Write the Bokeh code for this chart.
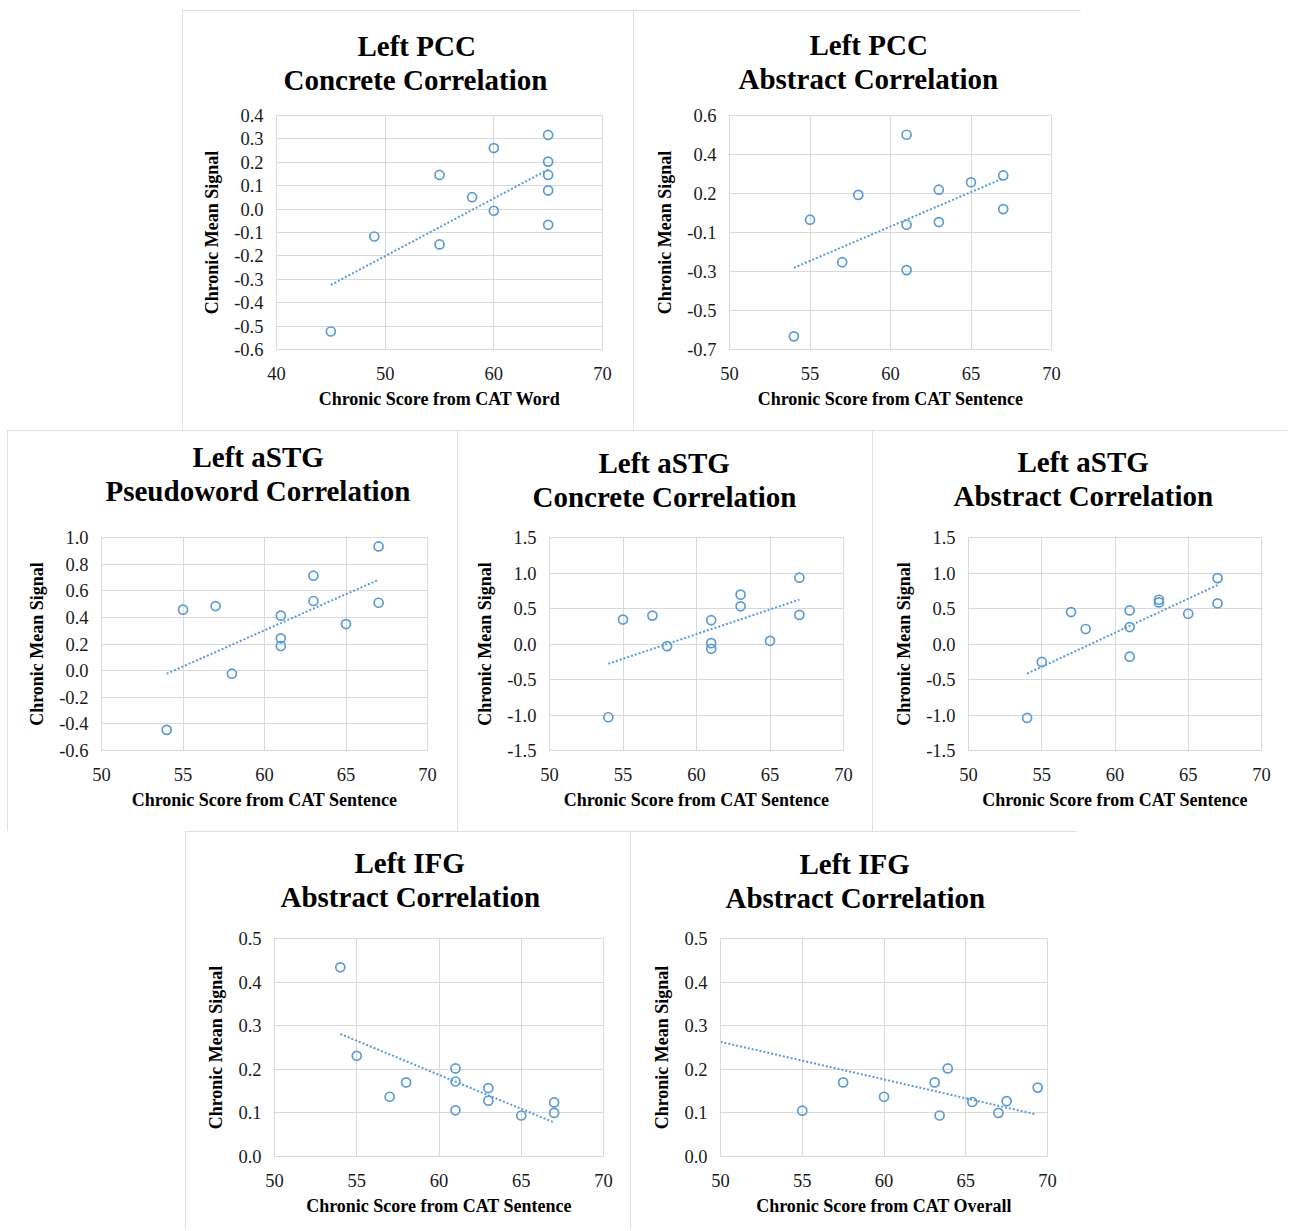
from bokeh.plotting import figure
from bokeh.models import Range1d, FixedTicker, Title, Spacer
from bokeh.layouts import row, column
from bokeh.embed import file_html
from bokeh.resources import INLINE

# ---------------- data ----------------
title_line1 = ["Left PCC", "Left PCC", "Left aSTG", "Left aSTG", "Left aSTG", "Left IFG", "Left IFG"]
title_line2 = [
    "Concrete Correlation",
    "Abstract Correlation",
    "Pseudoword Correlation",
    "Concrete Correlation",
    "Abstract Correlation",
    "Abstract Correlation",
    "Abstract Correlation",
]
x_labels = [
    "Chronic Score from CAT Word",
    "Chronic Score from CAT Sentence",
    "Chronic Score from CAT Sentence",
    "Chronic Score from CAT Sentence",
    "Chronic Score from CAT Sentence",
    "Chronic Score from CAT Sentence",
    "Chronic Score from CAT Overall",
]
y_label = "Chronic Mean Signal"

p1_x = [45, 49, 55, 55, 58, 60, 60, 65, 65, 65, 65, 65]
p1_y = [-0.523, -0.117, 0.146, -0.151, 0.051, 0.261, -0.007, 0.317, 0.203, 0.146, 0.080, -0.067]
p1_trend_x = [45, 65]
p1_trend_y = [-0.324, 0.169]

p2_x = [54, 55, 57, 58, 61, 61, 61, 63, 63, 65, 67, 67]
p2_y = [-0.627, 0.021, -0.215, 0.159, 0.493, -0.007, -0.259, 0.188, 0.008, 0.229, 0.267, 0.080]
p2_trend_x = [54, 67]
p2_trend_y = [-0.246, 0.251]

p3_x = [54, 55, 57, 58, 61, 61, 61, 63, 63, 65, 67, 67]
p3_y = [-0.445, 0.458, 0.485, -0.023, 0.413, 0.243, 0.185, 0.713, 0.523, 0.350, 0.933, 0.510]
p3_trend_x = [54, 67]
p3_trend_y = [-0.023, 0.683]

p4_x = [54, 55, 57, 58, 61, 61, 61, 63, 63, 65, 67, 67]
p4_y = [-1.032, 0.344, 0.400, -0.030, 0.335, 0.012, -0.068, 0.695, 0.531, 0.045, 0.934, 0.410]
p4_trend_x = [54, 67]
p4_trend_y = [-0.278, 0.625]

p5_x = [54, 55, 57, 58, 61, 61, 61, 63, 63, 65, 67, 67]
p5_y = [-1.041, -0.253, 0.450, 0.211, 0.473, 0.239, -0.178, 0.623, 0.586, 0.426, 0.928, 0.572]
p5_trend_x = [54, 67]
p5_trend_y = [-0.417, 0.830]

p6_x = [54, 55, 57, 58, 61, 61, 61, 63, 63, 65, 67, 67]
p6_y = [0.434, 0.231, 0.137, 0.170, 0.202, 0.172, 0.106, 0.157, 0.128, 0.094, 0.124, 0.100]
p6_trend_x = [54, 67]
p6_trend_y = [0.281, 0.078]

p7_x = [55, 57.5, 60, 63.1, 63.4, 63.9, 65.4, 67, 67.5, 69.4]
p7_y = [0.105, 0.170, 0.137, 0.170, 0.094, 0.202, 0.125, 0.100, 0.127, 0.158]
p7_trend_x = [50, 69.25]
p7_trend_y = [0.263, 0.097]

xs = [p1_x, p2_x, p3_x, p4_x, p5_x, p6_x, p7_x]
ys = [p1_y, p2_y, p3_y, p4_y, p5_y, p6_y, p7_y]
trend_xs = [p1_trend_x, p2_trend_x, p3_trend_x, p4_trend_x, p5_trend_x, p6_trend_x, p7_trend_x]
trend_ys = [p1_trend_y, p2_trend_y, p3_trend_y, p4_trend_y, p5_trend_y, p6_trend_y, p7_trend_y]

x_ticks_40 = [40, 50, 60, 70]
x_tick_labels_40 = ["40", "50", "60", "70"]
x_ticks_50 = [50, 55, 60, 65, 70]
x_tick_labels_50 = ["50", "55", "60", "65", "70"]

y_ticks_p1 = [-0.6, -0.5, -0.4, -0.3, -0.2, -0.1, 0.0, 0.1, 0.2, 0.3, 0.4]
y_labels_p1 = ["-0.6", "-0.5", "-0.4", "-0.3", "-0.2", "-0.1", "0.0", "0.1", "0.2", "0.3", "0.4"]
y_ticks_p2 = [-0.7, -0.7 + 1.3 / 6, -0.7 + 2.6 / 6, -0.7 + 3.9 / 6, -0.7 + 5.2 / 6, -0.7 + 6.5 / 6, 0.6]
y_labels_p2 = ["-0.7", "-0.5", "-0.3", "-0.1", "0.2", "0.4", "0.6"]
y_ticks_p3 = [-0.6, -0.4, -0.2, 0.0, 0.2, 0.4, 0.6, 0.8, 1.0]
y_labels_p3 = ["-0.6", "-0.4", "-0.2", "0.0", "0.2", "0.4", "0.6", "0.8", "1.0"]
y_ticks_p45 = [-1.5, -1.0, -0.5, 0.0, 0.5, 1.0, 1.5]
y_labels_p45 = ["-1.5", "-1.0", "-0.5", "0.0", "0.5", "1.0", "1.5"]
y_ticks_p67 = [0.0, 0.1, 0.2, 0.3, 0.4, 0.5]
y_labels_p67 = ["0.0", "0.1", "0.2", "0.3", "0.4", "0.5"]

x_tick_sets = [(x_ticks_40, x_tick_labels_40)] + [(x_ticks_50, x_tick_labels_50)] * 6
y_tick_sets = [(y_ticks_p1, y_labels_p1), (y_ticks_p2, y_labels_p2), (y_ticks_p3, y_labels_p3),
               (y_ticks_p45, y_labels_p45), (y_ticks_p45, y_labels_p45),
               (y_ticks_p67, y_labels_p67), (y_ticks_p67, y_labels_p67)]

# ---------------- layout / style ----------------
FONT = "Liberation Serif"
BLUE = "#5B9BD5"
GRID = "#d9d9d9"
BORDER = "#d6d6d6"

# (width, height, left, right, top, bottom, line1 offset, line2 offset, line2 standoff)
geom = [
    (451, 420, 94, 31, 105, 81, 81, 7, 39),
    (448, 420, 96, 30, 104, 80, 80, 9, 41),
    (450, 401, 94, 30, 107, 81, 91, 4, 61),
    (415, 401, 92, 29, 106, 81, 49, -17, 49),
    (415, 401, 96, 26, 107, 80, 49, -15, 51),
    (445, 400, 89, 27, 107, 75, 80, 6, 51),
    (447, 400, 90, 30, 107, 75, 79, 5, 50),
]

figs = []
for i in range(7):
    w, h, ml, mr, mt, mb, off1, off2, st2 = geom[i]
    xt, xtl = x_tick_sets[i]
    yt, ytl = y_tick_sets[i]
    p = figure(width=w, height=h, output_backend="svg", toolbar_location=None,
               x_range=Range1d(xt[0], xt[-1]), y_range=Range1d(yt[0], yt[-1]),
               min_border_left=ml, min_border_right=mr,
               min_border_top=mt, min_border_bottom=mb, title=None)
    t2 = Title(text=title_line2[i], align="left", offset=off2, standoff=st2,
               text_font=FONT, text_font_size="29px", text_font_style="bold",
               text_color="black")
    t1 = Title(text=title_line1[i], align="left", offset=off1, standoff=0,
               text_font=FONT, text_font_size="29px", text_font_style="bold",
               text_color="black")
    try:
        t1.standoff = -st2
    except Exception:
        t1.standoff = 0
    p.add_layout(t2, "above")
    p.add_layout(t1, "above")

    p.outline_line_color = GRID
    p.border_fill_color = "white"
    p.background_fill_color = "white"

    p.xaxis.ticker = FixedTicker(ticks=xt)
    p.yaxis.ticker = FixedTicker(ticks=yt)
    p.xaxis.major_label_overrides = {t: l for t, l in zip(xt, xtl)}
    p.yaxis.major_label_overrides = {t: l for t, l in zip(yt, ytl)}
    for ax in (p.xaxis, p.yaxis):
        ax.axis_line_color = GRID
        ax.major_tick_line_color = None
        ax.minor_tick_line_color = None
        ax.major_tick_out = 0
        ax.major_tick_in = 0
        ax.major_label_text_font = FONT
        ax.major_label_text_font_size = "18.5px"
        ax.major_label_text_color = "#1a1a1a"
        ax.axis_label_text_font = FONT
        ax.axis_label_text_font_size = "18px"
        ax.axis_label_text_font_style = "bold"
        ax.axis_label_text_color = "black"
    p.xaxis.axis_label = x_labels[i]
    p.yaxis.axis_label = y_label
    p.xaxis.major_label_standoff = 17
    p.yaxis.major_label_standoff = 13
    p.xaxis.axis_label_standoff = 6
    p.yaxis.axis_label_standoff = 9

    p.xgrid.ticker = FixedTicker(ticks=xt)
    p.ygrid.ticker = FixedTicker(ticks=yt)
    p.xgrid.grid_line_color = GRID
    p.ygrid.grid_line_color = GRID

    p.line(trend_xs[i], trend_ys[i], line_color=BLUE, line_width=2, line_dash="2 2")
    p.scatter(xs[i], ys[i], marker="circle", size=9, fill_color=None,
              line_color=BLUE, line_width=1.7)

    if i < 5:
        p.styles = {"outline": "2px solid " + BORDER, "outline-offset": "-2px"}
    else:
        # bottom row runs off the page in the original: no bottom border
        p.styles = {"outline": "2px solid " + BORDER, "outline-offset": "-2px",
                    "clip-path": "inset(0px 0px 2px 0px)"}
    figs.append(p)

layout = column(
    Spacer(height=10, width=10),
    row(Spacer(width=182, height=10), figs[0], figs[1]),
    row(Spacer(width=7, height=10), figs[2], figs[3], figs[4]),
    row(Spacer(width=185, height=10), figs[5], figs[6]),
)

open("out.html", "w").write(file_html(layout, INLINE))
